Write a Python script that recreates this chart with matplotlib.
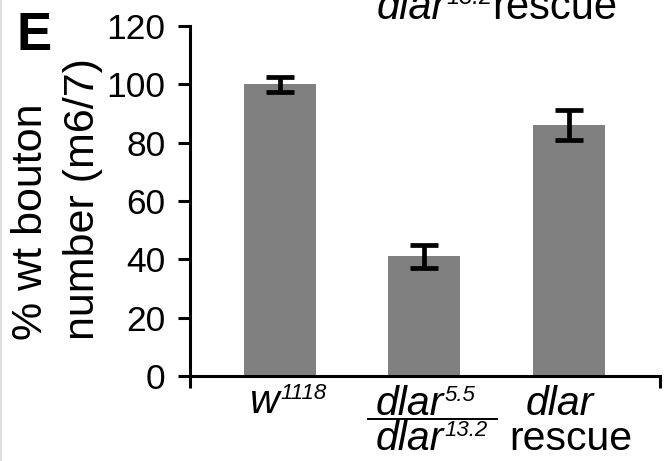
import matplotlib
matplotlib.use("Agg")
import matplotlib.pyplot as plt
import matplotlib.transforms as mtransforms
from matplotlib.lines import Line2D

# ---- data ----
categories = ["w1118", "dlar5.5/dlar13.2", "dlar rescue"]
values = [100, 41, 86]
errors = [2.6, 3.9, 5.1]
yticks = [0, 20, 40, 60, 80, 100, 120]
ylabel_lines = ["% wt bouton", "number (m6/7)"]

plt.rcParams['font.family'] = ['Liberation Sans', 'DejaVu Sans']

W, H = 668, 461
fig = plt.figure(figsize=(W / 100, H / 100), dpi=100)
ax = fig.add_axes([190 / W, 1 - 376 / H, (660 - 190) / W, (376 - 26) / H])

x = list(range(len(categories)))
ax.bar(x, values, width=0.5, color='#808080', zorder=1)
ax.errorbar(x, values, yerr=errors, fmt='none', ecolor='black',
            elinewidth=3.4, capsize=10, capthick=3.4, zorder=3)

ax.set_xlim(-0.62, 2.63)
ax.set_ylim(0, 120)
ax.set_yticks(yticks)
ax.set_yticklabels([str(v) for v in yticks], fontsize=25.5)
ax.set_xticks([-0.62, 2.63])
ax.set_xticklabels(['', ''])
ax.tick_params(axis='both', direction='out', length=8.5, width=2.2, color='black')
ax.tick_params(axis='y', pad=9)

for s in ['top', 'right']:
    ax.spines[s].set_visible(False)
for s in ['left', 'bottom']:
    ax.spines[s].set_linewidth(2.2)

PX = 144.5  # pixels per category unit
trans = mtransforms.blended_transform_factory(ax.transData, ax.transAxes)
FS = 29.5
SFS = 16


def label(xd, ybase, base, sup=None, italic=True, sup_rise=14):
    t = ax.text(xd, ybase, base, transform=trans, ha='left', va='baseline',
                fontsize=FS, style='italic' if italic else 'normal')
    if sup:
        ax.annotate(sup, xy=(1, ybase), xycoords=(t, ax.transAxes),
                    xytext=(0.5, sup_rise * 0.72), textcoords='offset points',
                    ha='left', va='baseline', fontsize=SFS, style='italic')
    return t


y1 = (376 - 413) / 350
y2 = (376 - 450) / 350
y1b = (376 - 415) / 350
label(x[0] + (250 - 280) / PX, y1, 'w', '1118')
label(x[1] + (375 - 424) / PX, y1b, 'dlar', '5.5')
label(x[1] + (375 - 424) / PX, y2, 'dlar', '13.2')
label(x[2] + (526 - 569) / PX, y1b, 'dlar')
label(x[2] + (509 - 569) / PX, y2, 'rescue', italic=False)
fig.add_artist(Line2D([368 / W, 497 / W], [1 - 419 / H] * 2, color='black', lw=1.4))

# y label (two lines, rotated)
fig.text(57 / W, 1 - 340 / H, "\n".join(ylabel_lines), rotation=90,
         ha='center', va='bottom', multialignment='left', fontsize=31,
         linespacing=1.4)

# panel letter
fig.text(17 / W, 1 - 50 / H, 'E', fontsize=38, fontweight='bold',
         ha='left', va='baseline')

# clipped heading from above
fig.text(377 / W, 1 - 19 / H, 'dlar', fontsize=30, style='italic',
         ha='left', va='baseline')
fig.text(446 / W, 1 - 4 / H, '13.2', fontsize=17, style='italic',
         ha='left', va='baseline')
fig.text(492 / W, 1 - 19 / H, 'rescue', fontsize=30, ha='left', va='baseline')

# faint frame edge at left
fig.add_artist(Line2D([0.5 / W, 0.5 / W], [0, 1], color='#d8d8d8', lw=1.2))

fig.savefig('out.png', dpi=100)
